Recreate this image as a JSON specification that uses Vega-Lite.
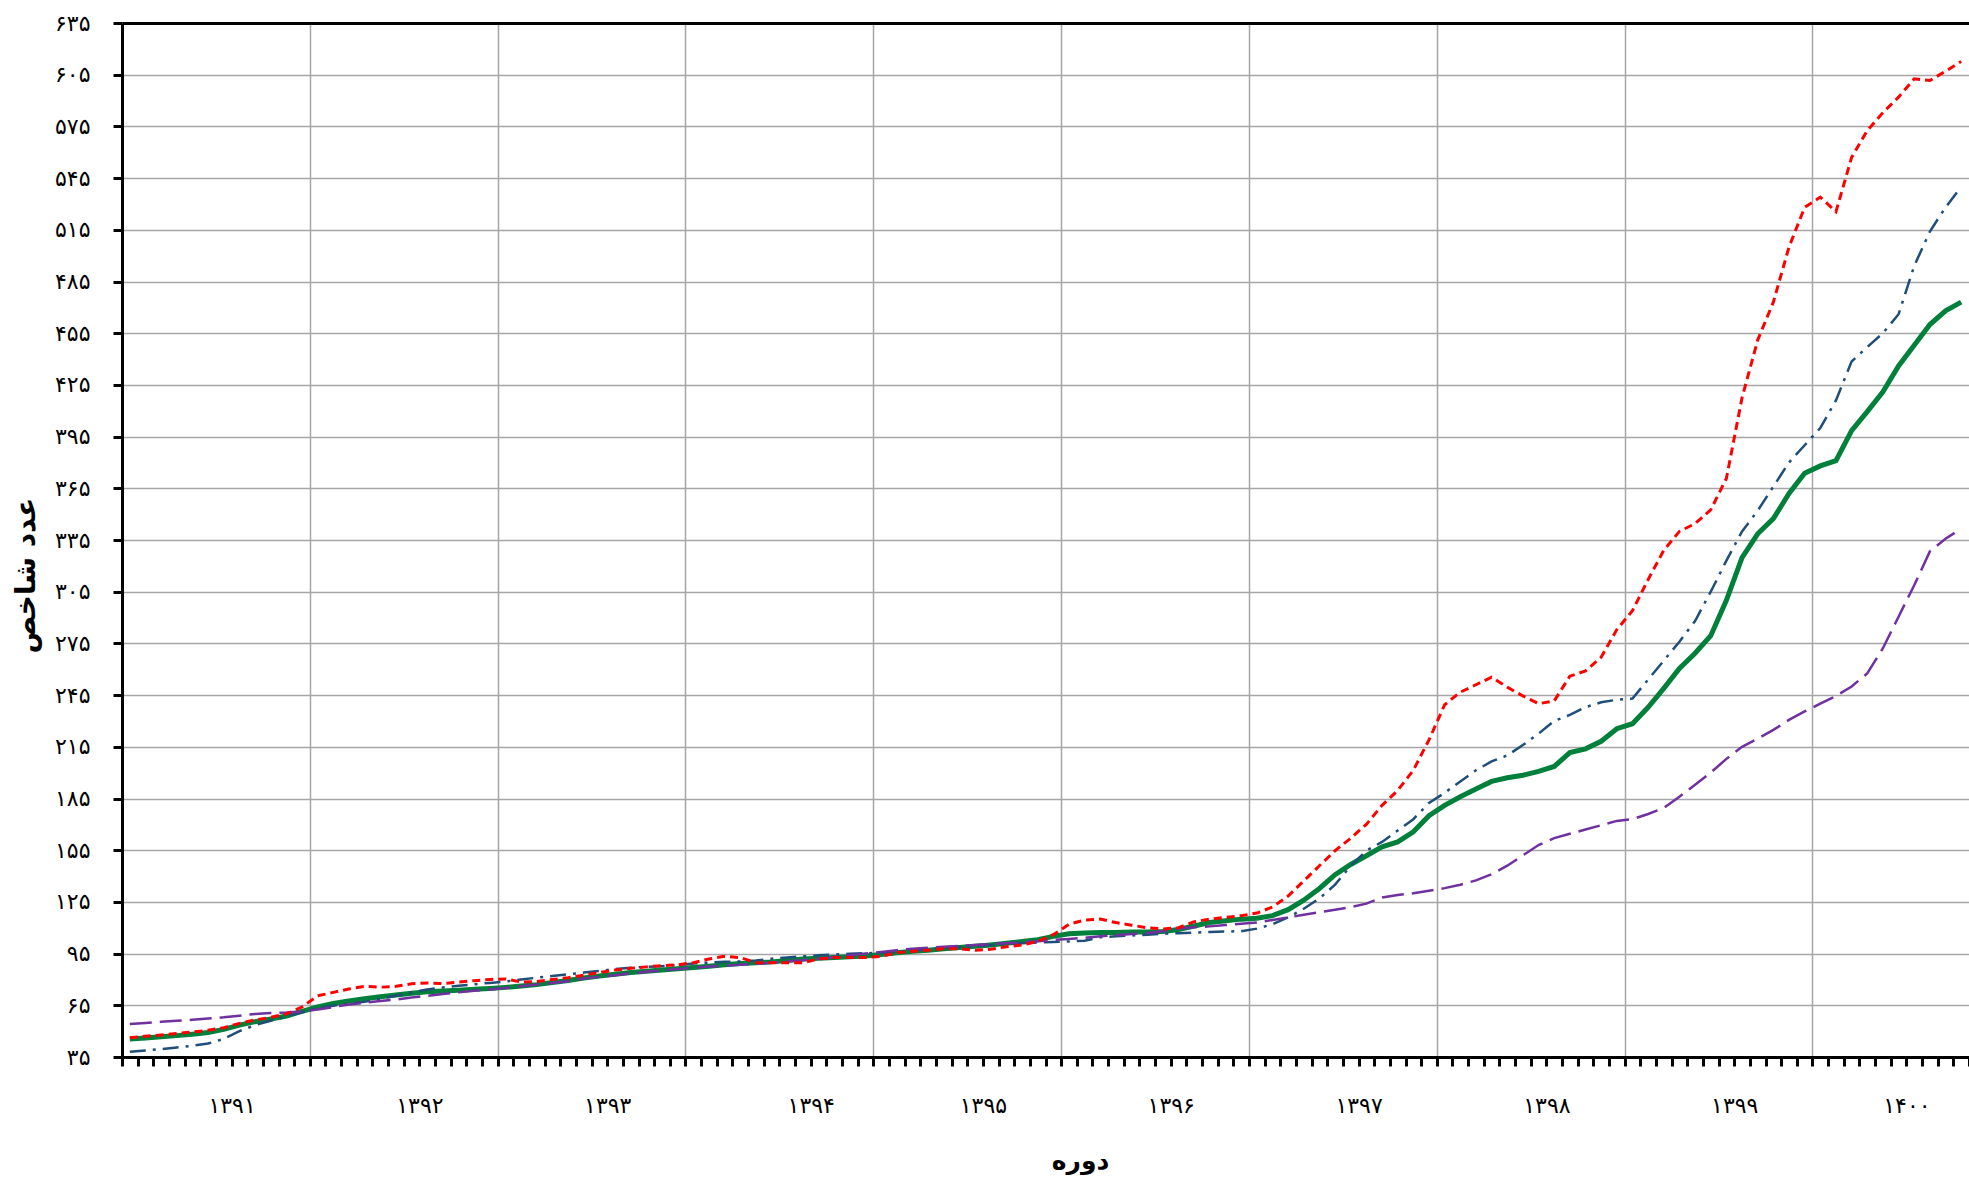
{
  "$schema": "https://vega.github.io/schema/vega-lite/v6.json",
  "width": 1847,
  "height": 1034,
  "autosize": {"type": "none"},
  "padding": {"left": 122, "top": 23, "right": 0, "bottom": 122},
  "background": "white",
  "config": {"view": {"stroke": null}, "font": "DejaVu Sans"},
  "data": {"values": [
    {"m":1,"g":45.4,"r":46.2,"b":38,"p":54.2},
    {"m":2,"g":46,"r":47,"b":38.8,"p":54.8},
    {"m":3,"g":46.7,"r":47.8,"b":39.6,"p":55.4},
    {"m":4,"g":47.4,"r":48.6,"b":40.5,"p":56},
    {"m":5,"g":48.2,"r":49.5,"b":41.5,"p":56.6},
    {"m":6,"g":49.2,"r":50.5,"b":42.8,"p":57.3},
    {"m":7,"g":51,"r":52,"b":45.5,"p":58},
    {"m":8,"g":53.5,"r":54.5,"b":50,"p":59},
    {"m":9,"g":55.5,"r":56.5,"b":53.5,"p":60},
    {"m":10,"g":57,"r":58,"b":56,"p":60.5},
    {"m":11,"g":58.8,"r":60,"b":58.5,"p":60.8},
    {"m":12,"g":61.5,"r":64,"b":61,"p":61.5},
    {"m":13,"g":64,"r":70.5,"b":63.4,"p":62.5},
    {"m":14,"g":66,"r":72.5,"b":64.8,"p":64},
    {"m":15,"g":67.5,"r":74.5,"b":66,"p":65.5},
    {"m":16,"g":68.8,"r":76,"b":67,"p":66.5},
    {"m":17,"g":70,"r":75.5,"b":68.8,"p":67.5},
    {"m":18,"g":71,"r":76,"b":70.5,"p":68.3},
    {"m":19,"g":72,"r":77.5,"b":72.5,"p":69.5},
    {"m":20,"g":72.8,"r":78,"b":74.2,"p":70.5},
    {"m":21,"g":73.3,"r":77.6,"b":75.3,"p":71.5},
    {"m":22,"g":73.8,"r":78.5,"b":76.3,"p":72.5},
    {"m":23,"g":74.3,"r":79.3,"b":77.2,"p":73.5},
    {"m":24,"g":74.8,"r":80,"b":78,"p":74.2},
    {"m":25,"g":75.4,"r":80.3,"b":78.8,"p":75},
    {"m":26,"g":76.2,"r":78.5,"b":80,"p":76},
    {"m":27,"g":77,"r":78.8,"b":81,"p":77},
    {"m":28,"g":78.2,"r":80,"b":82,"p":78},
    {"m":29,"g":79.4,"r":81,"b":83,"p":79},
    {"m":30,"g":80.8,"r":82.5,"b":84,"p":80.5},
    {"m":31,"g":82,"r":84,"b":85,"p":81.5},
    {"m":32,"g":83,"r":85.5,"b":86,"p":82.5},
    {"m":33,"g":84,"r":86.5,"b":86.8,"p":83.5},
    {"m":34,"g":84.8,"r":87.3,"b":87.3,"p":84.5},
    {"m":35,"g":85.5,"r":88,"b":87.7,"p":85.2},
    {"m":36,"g":86.2,"r":88.5,"b":88.3,"p":86},
    {"m":37,"g":87,"r":89.7,"b":89.2,"p":86.8},
    {"m":38,"g":87.7,"r":91.9,"b":89.8,"p":87.5},
    {"m":39,"g":88.5,"r":93.4,"b":90.2,"p":88},
    {"m":40,"g":89.2,"r":92.7,"b":90.5,"p":88.5},
    {"m":41,"g":89.7,"r":89.7,"b":91,"p":89},
    {"m":42,"g":90.2,"r":89.7,"b":92,"p":89.8},
    {"m":43,"g":91,"r":89.7,"b":92.8,"p":90.5},
    {"m":44,"g":91.8,"r":89.7,"b":93.4,"p":91.2},
    {"m":45,"g":92.3,"r":91.9,"b":94,"p":92},
    {"m":46,"g":92.8,"r":92.7,"b":94.4,"p":93},
    {"m":47,"g":93.2,"r":92.7,"b":94.9,"p":94},
    {"m":48,"g":93.6,"r":92.7,"b":95.2,"p":95},
    {"m":49,"g":94.5,"r":93.4,"b":95.5,"p":96},
    {"m":50,"g":95.5,"r":95.6,"b":96,"p":97},
    {"m":51,"g":96.3,"r":96.3,"b":96.8,"p":97.8},
    {"m":52,"g":97,"r":97,"b":97.5,"p":98.4},
    {"m":53,"g":97.8,"r":97.8,"b":98.2,"p":99},
    {"m":54,"g":98.5,"r":97.8,"b":98.7,"p":99.5},
    {"m":55,"g":99.2,"r":97,"b":99.2,"p":100},
    {"m":56,"g":100,"r":97.5,"b":100,"p":100.5},
    {"m":57,"g":101,"r":99,"b":100.7,"p":101},
    {"m":58,"g":102,"r":100,"b":101,"p":101.5},
    {"m":59,"g":103,"r":102,"b":101.4,"p":102.2},
    {"m":60,"g":105,"r":106,"b":101.8,"p":102.9},
    {"m":61,"g":106.5,"r":112,"b":102,"p":103.5},
    {"m":62,"g":107,"r":114.5,"b":102.5,"p":104.2},
    {"m":63,"g":107.2,"r":115,"b":104.5,"p":105},
    {"m":64,"g":107.3,"r":113,"b":105,"p":105.7},
    {"m":65,"g":107.5,"r":111.5,"b":105.5,"p":106.4},
    {"m":66,"g":107.6,"r":110,"b":106,"p":107},
    {"m":67,"g":107.8,"r":109.3,"b":106.5,"p":108},
    {"m":68,"g":109,"r":110,"b":106.8,"p":109.5},
    {"m":69,"g":111,"r":113.5,"b":107.2,"p":110.3},
    {"m":70,"g":113,"r":115,"b":107.5,"p":110.8},
    {"m":71,"g":114,"r":116,"b":107.8,"p":111.6},
    {"m":72,"g":115,"r":117,"b":108,"p":112.3},
    {"m":73,"g":115.5,"r":118.5,"b":109.5,"p":113},
    {"m":74,"g":117,"r":122,"b":112,"p":114.5},
    {"m":75,"g":120.5,"r":128.4,"b":116,"p":116},
    {"m":76,"g":126,"r":137.2,"b":121,"p":117.5},
    {"m":77,"g":132.8,"r":146,"b":127,"p":119},
    {"m":78,"g":140.8,"r":154.7,"b":135,"p":120.5},
    {"m":79,"g":146.7,"r":162,"b":146,"p":122},
    {"m":80,"g":151.8,"r":170,"b":154.7,"p":124},
    {"m":81,"g":156.9,"r":181,"b":159.8,"p":127.5},
    {"m":82,"g":159.8,"r":189.7,"b":166.4,"p":129},
    {"m":83,"g":165.7,"r":201.4,"b":173,"p":130},
    {"m":84,"g":175,"r":219,"b":182.4,"p":131.5},
    {"m":85,"g":181,"r":239.4,"b":188.3,"p":133},
    {"m":86,"g":186,"r":246.7,"b":194.9,"p":135},
    {"m":87,"g":190.5,"r":251,"b":201.4,"p":137.5},
    {"m":88,"g":194.9,"r":255.4,"b":206.5,"p":141},
    {"m":89,"g":197,"r":249.6,"b":210,"p":146},
    {"m":90,"g":198.5,"r":244.5,"b":216,"p":152},
    {"m":91,"g":200.7,"r":240,"b":222.6,"p":158},
    {"m":92,"g":203.6,"r":241.6,"b":230,"p":162},
    {"m":93,"g":211.6,"r":256,"b":233.5,"p":164.5},
    {"m":94,"g":213.8,"r":259,"b":238,"p":167},
    {"m":95,"g":218.2,"r":267,"b":240.8,"p":169.5},
    {"m":96,"g":225.5,"r":283,"b":242.3,"p":172},
    {"m":97,"g":228.4,"r":294,"b":243,"p":173},
    {"m":98,"g":237.9,"r":312,"b":254,"p":176},
    {"m":99,"g":248.9,"r":329,"b":265,"p":179.5},
    {"m":100,"g":260.5,"r":340,"b":276,"p":186},
    {"m":101,"g":269.3,"r":344.5,"b":288,"p":193},
    {"m":102,"g":279.5,"r":352.5,"b":305,"p":200},
    {"m":103,"g":300,"r":370.7,"b":323,"p":208},
    {"m":104,"g":324.8,"r":417.5,"b":340,"p":215},
    {"m":105,"g":338.6,"r":451,"b":352,"p":219.7},
    {"m":106,"g":347.4,"r":473,"b":366,"p":224.8},
    {"m":107,"g":362,"r":505,"b":380,"p":230.6},
    {"m":108,"g":373.7,"r":528,"b":390,"p":235.5},
    {"m":109,"g":378,"r":534,"b":400,"p":240},
    {"m":110,"g":381,"r":525.5,"b":416,"p":244.5},
    {"m":111,"g":398.5,"r":557,"b":438.6,"p":250},
    {"m":112,"g":409.5,"r":572.6,"b":447,"p":257.6},
    {"m":113,"g":421,"r":583,"b":455,"p":272.2},
    {"m":114,"g":436,"r":592,"b":466,"p":290.5},
    {"m":115,"g":448,"r":602.6,"b":494,"p":308.7},
    {"m":116,"g":460,"r":601.6,"b":514,"p":328.4},
    {"m":117,"g":468,"r":607,"b":528,"p":335.7},
    {"m":118,"g":473,"r":612.7,"b":540,"p":341.6}
  ]},
  "transform": [{"fold": ["g", "r", "b", "p"], "as": ["s", "v"]}],
  "encoding": {
    "x": {
      "field": "m",
      "type": "quantitative",
      "scale": {"domain": [0.5, 118.5], "nice": false, "zero": false},
      "axis": {
        "values": [0.5,1.5,2.5,3.5,4.5,5.5,6.5,7.5,8.5,9.5,10.5,11.5,12.5,13.5,14.5,15.5,16.5,17.5,18.5,19.5,20.5,21.5,22.5,23.5,24.5,25.5,26.5,27.5,28.5,29.5,30.5,31.5,32.5,33.5,34.5,35.5,36.5,37.5,38.5,39.5,40.5,41.5,42.5,43.5,44.5,45.5,46.5,47.5,48.5,49.5,50.5,51.5,52.5,53.5,54.5,55.5,56.5,57.5,58.5,59.5,60.5,61.5,62.5,63.5,64.5,65.5,66.5,67.5,68.5,69.5,70.5,71.5,72.5,73.5,74.5,75.5,76.5,77.5,78.5,79.5,80.5,81.5,82.5,83.5,84.5,85.5,86.5,87.5,88.5,89.5,90.5,91.5,92.5,93.5,94.5,95.5,96.5,97.5,98.5,99.5,100.5,101.5,102.5,103.5,104.5,105.5,106.5,107.5,108.5,109.5,110.5,111.5,112.5,113.5,114.5,115.5,116.5,117.5,118.5],
        "labelExpr": "indexof([7.5,19.5,31.5,44.5,55.5,67.5,79.5,91.5,103.5,114.5], datum.value) < 0 ? '' : ['۱۳۹۱','۱۳۹۲','۱۳۹۳','۱۳۹۴','۱۳۹۵','۱۳۹۶','۱۳۹۷','۱۳۹۸','۱۳۹۹','۱۴۰۰'][indexof([7.5,19.5,31.5,44.5,55.5,67.5,79.5,91.5,103.5,114.5], datum.value)]",
        "labelFont": "DejaVu Sans",
        "labelFontSize": 22,
        "labelColor": "black",
        "labelPadding": 39,
        "labelBaseline": "middle",
        "labelOverlap": false,
        "labelBound": false,
        "labelFlush": false,
        "title": "دوره",
        "titleFont": "DejaVu Sans",
        "titleFontSize": 25,
        "titleFontWeight": "bold",
        "titleColor": "black",
        "titleBaseline": "middle",
        "titleX": 958,
        "titleY": 103,
        "domainColor": "black",
        "domainWidth": 3,
        "tickColor": "black",
        "tickWidth": 3,
        "tickSize": 9,
        "grid": true,
        "gridColor": "#a6a6a6",
        "gridWidth": 1.5,
        "gridOpacity": {"condition": {"test": "datum.value % 12 === 0.5 && datum.value > 1 && datum.value < 118", "value": 1}, "value": 0}
      }
    },
    "y": {
      "field": "v",
      "type": "quantitative",
      "scale": {"domain": [35, 635], "nice": false, "zero": false},
      "axis": {
        "values": [35,65,95,125,155,185,215,245,275,305,335,365,395,425,455,485,515,545,575,605,635],
        "labelExpr": "join(split(join(split(join(split(join(split(join(split(join(split(join(split(join(split(join(split(join(split(toString(datum.value),'0'),'۰'),'1'),'۱'),'2'),'۲'),'3'),'۳'),'4'),'۴'),'5'),'۵'),'6'),'۶'),'7'),'۷'),'8'),'۸'),'9'),'۹')",
        "labelFont": "DejaVu Sans",
        "labelFontSize": 22,
        "labelColor": "black",
        "labelPadding": 23,
        "title": "عدد شاخص",
        "titleFont": "DejaVu Sans",
        "titleFontSize": 28,
        "titleFontWeight": "bold",
        "titleColor": "black",
        "titleX": -82,
        "titleY": 552,
        "domainColor": "black",
        "domainWidth": 3,
        "tickColor": "black",
        "tickWidth": 3,
        "tickSize": 9,
        "grid": true,
        "gridColor": {"condition": {"test": "datum.value === 635", "value": "black"}, "value": "#a6a6a6"},
        "gridWidth": {"condition": {"test": "datum.value === 635", "value": 3}, "value": 1.5}
      }
    }
  },
  "layer": [
    {
      "transform": [{"filter": "datum.s === 'g'"}],
      "mark": {"type": "line", "color": "#00803a", "strokeWidth": 5}
    },
    {
      "transform": [{"filter": "datum.s === 'b'"}],
      "mark": {"type": "line", "color": "#1f4e79", "strokeWidth": 2.5, "strokeDash": [16, 7, 3, 7]}
    },
    {
      "transform": [{"filter": "datum.s === 'p'"}],
      "mark": {"type": "line", "color": "#7030a0", "strokeWidth": 2.5, "strokeDash": [22, 8]}
    },
    {
      "transform": [{"filter": "datum.s === 'r'"}],
      "mark": {"type": "line", "color": "#ff0000", "strokeWidth": 3, "strokeDash": [8, 5]}
    }
  ]
}
